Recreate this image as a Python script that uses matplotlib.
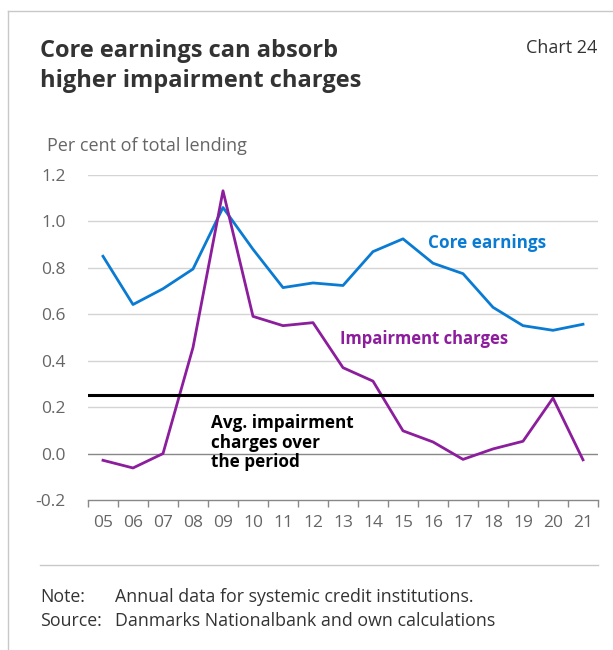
import numpy as np
import matplotlib.pyplot as plt
from matplotlib.lines import Line2D

plt.rcParams['font.family'] = ['Open Sans', 'DejaVu Sans']

years = ["05", "06", "07", "08", "09", "10", "11", "12", "13",
         "14", "15", "16", "17", "18", "19", "20", "21"]
core_earnings = [0.85, 0.642, 0.71, 0.795, 1.06, 0.88, 0.715, 0.735, 0.724,
                 0.87, 0.925, 0.82, 0.775, 0.63, 0.551, 0.531, 0.557]
impairment = [-0.029, -0.062, 0.0, 0.457, 1.132, 0.591, 0.551, 0.564, 0.37,
              0.312, 0.098, 0.05, -0.025, 0.02, 0.053, 0.239, -0.027]
y_ticks = [-0.2, 0.0, 0.2, 0.4, 0.6, 0.8, 1.0, 1.2]

blue = "#0a7bd2"
purple = "#8c1d9c"
text_dark = "#333333"
text_grey = "#666666"

fig = plt.figure(figsize=(6.13, 6.5), dpi=100)
W, H = 613, 650

# light frame on the left and top
fig.add_artist(Line2D([8 / W, 8 / W], [0, 1 - 11 / H], color="#c8c8c8", lw=1))
fig.add_artist(Line2D([8 / W, 1], [1 - 11 / H, 1 - 11 / H], color="#c8c8c8", lw=1))

ax = fig.add_axes([88 / W, 1 - 500 / H, 510 / W, 325 / H])
x = np.arange(len(years))

for v in y_ticks[1:]:
    ax.axhline(v, color="#888888" if v == 0 else "#d4d4d4", lw=1, zorder=1)

ax.plot(x, core_earnings, color=blue, lw=2, zorder=3)
ax.plot(x, impairment, color=purple, lw=2, zorder=3)

# average impairment over the whole period
avg = np.mean(impairment)
ax.plot([-0.5, 16.3], [avg, avg], color="black", lw=2.2, zorder=4)

ax.set_xlim(-0.5, 16.5)
ax.set_ylim(-0.2, 1.2)
ax.set_yticks(y_ticks)
ax.set_yticklabels([f"{v:.1f}" for v in y_ticks])
ax.set_xticks(x)
ax.set_xticklabels(years)
ax.set_xticks(np.arange(-0.5, 17, 1), minor=True)
ax.tick_params(axis="x", which="major", length=0, pad=11,
               labelsize=12.5, labelcolor=text_grey)
ax.tick_params(axis="x", which="minor", length=5, color="#888888", width=1)
ax.tick_params(axis="y", length=0, pad=16, labelsize=12.5, labelcolor=text_grey)
for side in ["left", "right", "top"]:
    ax.spines[side].set_visible(False)
ax.spines["bottom"].set_color("#888888")
ax.spines["bottom"].set_linewidth(1)

ax.text(10.85, 0.905, "Core earnings", color=blue, fontsize=12.3,
        fontweight="bold", va="center", ha="left")
ax.text(7.9, 0.495, "Impairment charges", color=purple, fontsize=12,
        fontweight="bold", va="center", ha="left")
ax.text(3.6, 0.17, "Avg. impairment\ncharges over\nthe period", color="black",
        fontsize=12.3, fontweight="bold", va="top", ha="left", linespacing=1.12)

fig.text(40 / W, 1 - 66 / H, "Core earnings can absorb\nhigher impairment charges",
         color=text_dark, fontsize=17, fontweight="bold", va="center",
         linespacing=1.33)
fig.text(597 / W, 1 - 48 / H, "Chart 24", color=text_dark, fontsize=13,
         ha="right", va="center")
fig.text(47 / W, 1 - 146 / H, "Per cent of total lending", color=text_grey,
         fontsize=13, va="center")

fig.add_artist(Line2D([40 / W, 598 / W], [1 - 565 / H, 1 - 565 / H],
                      color="#c8c8c8", lw=1))
fig.text(40 / W, 1 - 597 / H, "Note:", color=text_dark, fontsize=12.8, va="center")
fig.text(115 / W, 1 - 597 / H, "Annual data for systemic credit institutions.",
         color=text_dark, fontsize=12.8, va="center")
fig.text(40 / W, 1 - 621 / H, "Source:", color=text_dark, fontsize=12.8, va="center")
fig.text(115 / W, 1 - 621 / H, "Danmarks Nationalbank and own calculations",
         color=text_dark, fontsize=12.8, va="center")

fig.savefig("out.png", dpi=100)
